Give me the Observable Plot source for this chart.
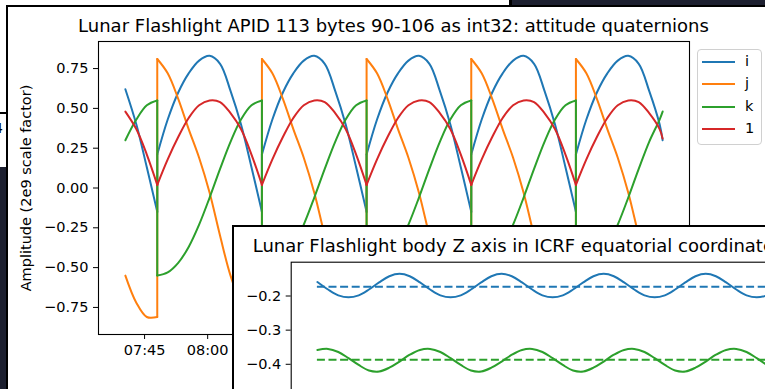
<!DOCTYPE html>
<html><head><meta charset="utf-8">
<script src="https://cdn.jsdelivr.net/npm/d3@7"></script>
<script src="https://cdn.jsdelivr.net/npm/@observablehq/plot@0.6"></script>
<style>
html,body{margin:0;padding:0;}
body{width:765px;height:389px;overflow:hidden;position:relative;background:#1d2030;font-family:"DejaVu Sans",sans-serif;color:#000;}
.abs{position:absolute;}
svg{position:absolute;overflow:visible;}
</style></head><body>
<script>
// ---------- main chart data (attitude quaternions) ----------
const titleMain = "Lunar Flashlight APID 113 bytes 90-106 as int32: attitude quaternions";
const yLabelMain = "Amplitude (2e9 scale factor)";
const seriesNames = ["i", "j", "k", "1"];
const seriesColors = ["#1f77b4", "#ff7f0e", "#2ca02c", "#d62728"];
// sample times (UTC); a repeated time marks a sign flip (jump)
const times = [
  "07:40:26","07:43:02","07:45:32","07:48:01",
  "07:48:01","07:50:30","07:53:00","07:55:29","07:57:58","08:00:28","08:02:57","08:05:26","08:07:55","08:10:25","08:12:54",
  "08:12:54","08:15:23","08:17:53","08:20:22","08:22:51","08:25:21","08:27:50","08:30:19","08:32:48","08:35:18","08:37:47",
  "08:37:47","08:40:16","08:42:46","08:45:15","08:47:44","08:50:14","08:52:43","08:55:12","08:57:41","09:00:11","09:02:40",
  "09:02:40","09:05:09","09:07:39","09:10:08","09:12:37","09:15:07","09:17:36","09:20:05","09:22:34","09:25:04","09:27:33",
  "09:27:33","09:30:02","09:32:32","09:35:01","09:37:30","09:40:00","09:42:29","09:44:58","09:47:27","09:48:10"
];
const valI = [
  0.62,0.40,0.13,-0.15,
  0.21,0.43,0.60,0.72,0.80,0.83,0.78,0.61,0.40,0.13,-0.15,
  0.21,0.43,0.60,0.72,0.80,0.83,0.78,0.61,0.40,0.13,-0.15,
  0.21,0.43,0.60,0.72,0.80,0.83,0.78,0.61,0.40,0.13,-0.15,
  0.21,0.43,0.60,0.72,0.80,0.83,0.78,0.61,0.40,0.13,-0.15,
  0.21,0.43,0.60,0.72,0.80,0.83,0.78,0.61,0.40,0.30
];
const valJ = [
  -0.55,-0.72,-0.81,-0.81,
  0.81,0.72,0.56,0.37,0.19,-0.03,-0.30,-0.55,-0.72,-0.81,-0.81,
  0.81,0.72,0.56,0.37,0.19,-0.03,-0.30,-0.55,-0.72,-0.81,-0.81,
  0.81,0.72,0.56,0.37,0.19,-0.03,-0.30,-0.55,-0.72,-0.81,-0.81,
  0.81,0.72,0.56,0.37,0.19,-0.03,-0.30,-0.55,-0.72,-0.81,-0.81,
  0.81,0.72,0.56,0.37,0.19,-0.03,-0.30,-0.55,-0.72,-0.76
];
const valK = [
  0.30,0.43,0.52,0.55,
  -0.55,-0.53,-0.47,-0.37,-0.23,-0.06,0.12,0.29,0.43,0.52,0.55,
  -0.55,-0.53,-0.47,-0.37,-0.23,-0.06,0.12,0.29,0.43,0.52,0.55,
  -0.55,-0.53,-0.47,-0.37,-0.23,-0.06,0.12,0.29,0.43,0.52,0.55,
  -0.55,-0.53,-0.47,-0.37,-0.23,-0.06,0.12,0.29,0.43,0.52,0.55,
  -0.55,-0.53,-0.47,-0.37,-0.23,-0.06,0.12,0.29,0.43,0.48
];
const valW = [
  0.48,0.37,0.21,0.02,
  0.02,0.18,0.32,0.44,0.52,0.55,0.54,0.47,0.37,0.21,0.02,
  0.02,0.18,0.32,0.44,0.52,0.55,0.54,0.47,0.37,0.21,0.02,
  0.02,0.18,0.32,0.44,0.52,0.55,0.54,0.47,0.37,0.21,0.02,
  0.02,0.18,0.32,0.44,0.52,0.55,0.54,0.47,0.37,0.21,0.02,
  0.02,0.18,0.32,0.44,0.52,0.55,0.54,0.47,0.37,0.31
];
const xTicks = ["07:45","08:00","08:15","08:30","08:45","09:00","09:15","09:30","09:45"];
const yTicks = [-0.75,-0.5,-0.25,0,0.25,0.5,0.75];
const yDomainMain = [-0.92, 0.92];

// ---------- overlay chart data (body Z axis) ----------
const titleZ = "Lunar Flashlight body Z axis in ICRF equatorial coordinates";
const zNames = ["x", "z"];
const zColors = ["#1f77b4", "#2ca02c"];
const zX = [
  -0.159,-0.181,-0.198,-0.204,
  -0.198,-0.181,-0.160,-0.142,-0.135,-0.142,-0.160,-0.181,-0.198,-0.204,
  -0.198,-0.181,-0.160,-0.142,-0.135,-0.142,-0.160,-0.181,-0.198,-0.204,
  -0.198,-0.181,-0.160,-0.142,-0.135,-0.142,-0.160,-0.181,-0.198,-0.204,
  -0.198,-0.181,-0.160,-0.142,-0.135,-0.142,-0.160,-0.181,-0.198,-0.204,
  -0.198,-0.181,-0.160,-0.142,-0.135,-0.142,-0.160,-0.181,-0.187
];
const zZ = [
  -0.358,-0.355,-0.364,-0.382,
  -0.402,-0.418,-0.421,-0.410,-0.392,-0.372,-0.358,-0.355,-0.364,-0.382,
  -0.402,-0.418,-0.421,-0.410,-0.392,-0.372,-0.358,-0.355,-0.364,-0.382,
  -0.402,-0.418,-0.421,-0.410,-0.392,-0.372,-0.358,-0.355,-0.364,-0.382,
  -0.402,-0.418,-0.421,-0.410,-0.392,-0.372,-0.358,-0.355,-0.364,-0.382,
  -0.402,-0.418,-0.421,-0.410,-0.392,-0.372,-0.358,-0.355,-0.357
];
const zMeans = [-0.173, -0.387];
const zTicks = [-0.4,-0.3,-0.2];
const yDomainZ = [-0.96, -0.101];

// ---------- helpers ----------
const parse = s => new Date("2022-12-16T" + s + "Z");
const fmtHM = d3.utcFormat("%H:%M");
const font = '"DejaVu Sans", sans-serif';

function el(tag, css, text) {
  const e = document.createElement(tag);
  e.className = "abs";
  Object.assign(e.style, css);
  if (text != null) e.textContent = text;
  document.body.appendChild(e);
  return e;
}

// ---------- background windows ----------
el("div", {left: "0px", top: "0px", width: "510px", height: "6px", background: "#fff"});
el("div", {left: "509px", top: "0px", width: "3px", height: "6px", background: "#000"});
el("div", {left: "0px", top: "0px", width: "7px", height: "167px", background: "#fff"});
el("div", {left: "0px", top: "112px", width: "7px", height: "2px", background: "#000"});
el("div", {left: "-6px", top: "120px", fontSize: "14px", lineHeight: "16px"}, "4");

// main window
el("div", {left: "6px", top: "5px", width: "800px", height: "400px", background: "#fff",
  borderTop: "2px solid #000", borderLeft: "2px solid #000"});

// ---------- main plot ----------
const uniqTimes = times.map(parse);
const xExt = d3.extent(uniqTimes);
const xPad = (xExt[1] - xExt[0]) * 0.05;
const xDomain = [new Date(+xExt[0] - xPad), new Date(+xExt[1] + xPad)];

const valsBySeries = [valI, valJ, valK, valW];
const marks = [];
seriesNames.forEach((name, si) => {
  const vals = valsBySeries[si];
  const rows = [], jumps = [];
  let seg = 0;
  times.forEach((t, i) => {
    if (i > 0 && t === times[i - 1]) {
      jumps.push({time: parse(t), value: vals[i - 1], j: seg});
      jumps.push({time: parse(t), value: vals[i], j: seg});
      seg++;
    }
    rows.push({time: parse(t), value: vals[i], seg});
  });
  marks.push(Plot.line(rows, {x: "time", y: "value", z: "seg", stroke: seriesColors[si],
    strokeWidth: 2, curve: "catmull-rom", strokeLinejoin: "round"}));
  marks.push(Plot.line(jumps, {x: "time", y: "value", z: "j", stroke: seriesColors[si], strokeWidth: 2}));
});

const mainPlot = Plot.plot({
  width: 765, height: 389,
  marginLeft: 98, marginRight: 76, marginTop: 41, marginBottom: 55,
  style: {background: "transparent", fontFamily: font, fontSize: "14.5px", color: "#000"},
  x: {type: "utc", domain: xDomain},
  y: {domain: yDomainMain},
  marks: [
    ...marks,
    Plot.axisX({ticks: xTicks.map(parse), tickFormat: fmtHM, tickSize: 5, tickPadding: 5, label: null}),
    Plot.axisY({ticks: yTicks, tickFormat: d3.format(".2f"), tickSize: 5, tickPadding: 5, label: null}),
    Plot.frame({stroke: "#000", strokeWidth: 1.1})
  ]
});
mainPlot.style.left = "0px"; mainPlot.style.top = "0px";
document.body.appendChild(mainPlot);

el("div", {left: "0px", top: "17px", width: "787px", textAlign: "center", fontSize: "18px", lineHeight: "18px", whiteSpace: "nowrap"}, titleMain);
el("div", {left: "26px", top: "187.5px", fontSize: "14.5px", lineHeight: "15px", whiteSpace: "nowrap",
  transform: "translate(-50%,-50%) rotate(-90deg)"}, yLabelMain);

// legend
el("div", {left: "697px", top: "49px", width: "63px", height: "94px", background: "rgba(255,255,255,0.8)",
  border: "1px solid #d0d0d0", borderRadius: "4px"});
seriesNames.forEach((name, i) => {
  const cy = 61.5 + i * 22.5;
  el("div", {left: "702px", top: (cy - 1) + "px", width: "33px", height: "2px", background: seriesColors[i]});
  el("div", {left: "745px", top: (cy - 9) + "px", fontSize: "14.5px", lineHeight: "17px"}, name);
});

// ---------- overlay window ----------
el("div", {left: "232px", top: "225px", width: "600px", height: "200px", background: "#fff",
  borderTop: "2px solid #000", borderLeft: "2px solid #000"});

const zRows = [], zMeanRows = [];
const zTimesAll = [];
times.forEach((t, i) => { if (i === 0 || t !== times[i - 1]) zTimesAll.push(t); });
zNames.forEach((name, si) => {
  const vals = si === 0 ? zX : zZ;
  zTimesAll.forEach((t, i) => zRows.push({time: parse(t), value: vals[i], s: name}));
  zMeanRows.push({t1: parse(zTimesAll[0]), t2: parse(zTimesAll[zTimesAll.length - 1]), value: zMeans[si], s: name});
});
const zExt = d3.extent(zTimesAll.map(parse));
const zPad = (zExt[1] - zExt[0]) * 0.05;
const zPlot = Plot.plot({
  width: 653, height: 368,
  marginLeft: 56.7, marginRight: 20, marginTop: 34.7, marginBottom: 40,
  style: {background: "transparent", fontFamily: font, fontSize: "14.5px", color: "#000"},
  x: {type: "utc", domain: [new Date(+zExt[0] - zPad), new Date(+zExt[1] + zPad)], axis: null},
  y: {domain: yDomainZ, axis: null},
  color: {domain: zNames, range: zColors},
  marks: [
    Plot.line(zRows, {x: "time", y: "value", z: "s", stroke: "s", strokeWidth: 2, curve: "catmull-rom"}),
    Plot.ruleY(zMeanRows, {x1: "t1", x2: "t2", y: "value", stroke: "s", strokeWidth: 2, strokeDasharray: "8,3.6"}),
    Plot.axisY({ticks: zTicks, tickFormat: d3.format(".1f"), tickSize: 5, tickPadding: 5, label: null}),
    Plot.frame({stroke: "#000", strokeWidth: 1.1})
  ]
});
zPlot.style.left = "234px"; zPlot.style.top = "227px";
document.body.appendChild(zPlot);

el("div", {left: "252.7px", top: "236.5px", fontSize: "18px", lineHeight: "18px", whiteSpace: "nowrap"}, titleZ);
</script>
</body></html>
